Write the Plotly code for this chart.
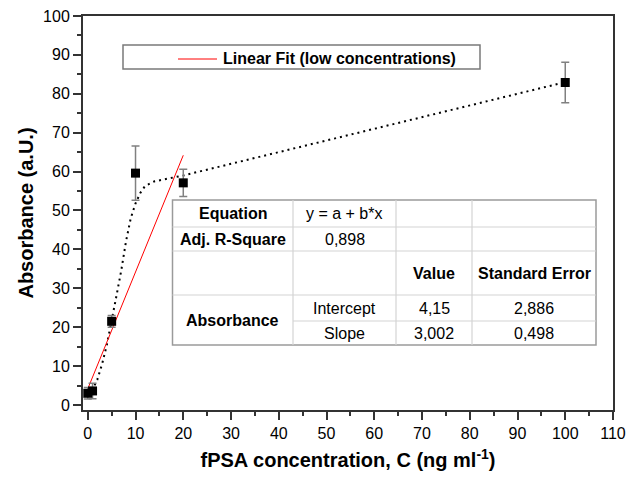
import plotly.graph_objects as go

# ---------------- data ----------------
conc = [0, 1, 5, 10, 20, 100]
absorbance = [3.0, 3.6, 21.5, 59.6, 57.1, 82.9]
abs_err = [1.5, 2.0, 1.5, 7.0, 3.5, 5.2]

# dotted guide curve
curve_x = [0, 1, 2, 3, 4, 5, 6, 7, 8, 9, 10, 11, 12, 14, 17, 20, 30, 40, 50, 60, 70, 80, 90, 100]
curve_y = [2.5, 4.0, 6.5, 10.5, 15.5, 21.5, 28.0, 34.5, 42.0, 48.0, 51.8, 54.5, 56.3, 57.5, 58.3, 59.0,
           62.0, 65.0, 68.0, 71.0, 74.0, 77.0, 80.0, 83.0]

# linear fit (low concentrations)
fit_x = [0, 20]
fit_y = [4.15, 64.19]
fit_name = "Linear Fit (low concentrations)"

x_ticks = [0, 10, 20, 30, 40, 50, 60, 70, 80, 90, 100, 110]
y_ticks = [0, 10, 20, 30, 40, 50, 60, 70, 80, 90, 100]

table_cells = [
    ["Equation", "y = a + b*x", "", ""],
    ["Adj. R-Square", "0,898", "", ""],
    ["", "", "Value", "Standard Error"],
    ["Absorbance", "Intercept", "4,15", "2,886"],
    ["", "Slope", "3,002", "0,498"],
]
table_bold = [
    [True, False, False, False],
    [True, False, False, False],
    [False, False, True, True],
    [True, False, False, False],
    [False, False, False, False],
]

# ---------------- layout geometry (pixels) ----------------
W, H = 628, 478
L, R, T, B = 83, 15, 16, 68
PW, PH = W - L - R, H - T - B


def px(x):
    return (x - L) / PW


def py(y):
    return (H - B - y) / PH


FONT = "Liberation Sans, Arial, sans-serif"

fig = go.Figure()

fig.add_trace(go.Scatter(
    x=curve_x, y=curve_y, mode="lines",
    line=dict(color="black", width=2, dash="2px,4px"),
    showlegend=False, hoverinfo="skip"))

fig.add_trace(go.Scatter(
    x=fit_x, y=fit_y, mode="lines",
    line=dict(color="#ff0000", width=1),
    name=fit_name, showlegend=False))

fig.add_trace(go.Scatter(
    x=conc, y=absorbance, mode="markers",
    marker=dict(symbol="square", size=9, color="black"),
    error_y=dict(type="data", array=abs_err, visible=True,
                 color="#808080", thickness=1.5, width=4),
    showlegend=False))

shapes = []
annotations = []

# legend box
shapes.append(dict(type="rect", xref="paper", yref="paper",
                   x0=px(123), x1=px(480), y0=py(69), y1=py(45),
                   line=dict(color="#7a7a7a", width=1.5), fillcolor="white", layer="above"))
shapes.append(dict(type="line", xref="paper", yref="paper",
                   x0=px(178), x1=px(217), y0=py(59), y1=py(59),
                   line=dict(color="#ff0000", width=1), layer="above"))
annotations.append(dict(xref="paper", yref="paper", x=px(221), y=py(58.5),
                        xanchor="left", yanchor="middle", showarrow=False,
                        text="<b>" + fit_name + "</b>",
                        font=dict(family=FONT, size=16, color="black")))

# table
col_edges = [172.5, 293, 396, 472, 596]
row_edges = [200, 227, 251, 295, 321, 345]
shapes.append(dict(type="rect", xref="paper", yref="paper",
                   x0=px(col_edges[0]), x1=px(col_edges[-1]),
                   y0=py(row_edges[-1]), y1=py(row_edges[0]),
                   line=dict(color="#9a9a9a", width=1.5), fillcolor="white", layer="above"))
for cx in col_edges[1:-1]:
    shapes.append(dict(type="line", xref="paper", yref="paper",
                       x0=px(cx), x1=px(cx), y0=py(row_edges[-1]), y1=py(row_edges[0]),
                       line=dict(color="#d4d4d4", width=1.2), layer="above"))
for i, ry in enumerate(row_edges[1:-1]):
    start = col_edges[1] if i == 3 else col_edges[0]
    shapes.append(dict(type="line", xref="paper", yref="paper",
                       x0=px(start), x1=px(col_edges[-1]), y0=py(ry), y1=py(ry),
                       line=dict(color="#d4d4d4", width=1.2), layer="above"))

for r, row in enumerate(table_cells):
    for c, txt in enumerate(row):
        if not txt:
            continue
        xc = (col_edges[c] + col_edges[c + 1]) / 2
        if r == 3 and c == 0:
            yc = (row_edges[3] + row_edges[5]) / 2
        else:
            yc = (row_edges[r] + row_edges[r + 1]) / 2
        t = "<b>" + txt + "</b>" if table_bold[r][c] else txt
        annotations.append(dict(xref="paper", yref="paper", x=px(xc), y=py(yc),
                                xanchor="center", yanchor="middle", showarrow=False,
                                text=t, font=dict(family=FONT, size=16, color="black")))

axis_common = dict(
    showline=True, mirror=True, linecolor="#333333", linewidth=2,
    showgrid=False, zeroline=False, automargin=False,
    ticks="outside", ticklen=8, tickwidth=1.5, tickcolor="#333333",
    tickfont=dict(family=FONT, size=16, color="black"),
    minor=dict(ticks="outside", ticklen=4, tickwidth=1.5, tickcolor="#333333", dtick=5),
)

fig.update_layout(
    width=W, height=H,
    margin=dict(l=L, r=R, t=T, b=B, pad=0),
    paper_bgcolor="white", plot_bgcolor="white",
    showlegend=False,
    xaxis=dict(range=[-1, 110], tickvals=x_ticks,
               title=dict(text="fPSA concentration, C (ng ml<sup>-1</sup>)",
                          font=dict(family=FONT, size=20, color="black", weight="bold"),
                          standoff=12),
               **axis_common),
    yaxis=dict(range=[-1.3, 100], tickvals=y_ticks,
               title=dict(text="Absorbance (a.U.)",
                          font=dict(family=FONT, size=20, color="black", weight="bold"),
                          standoff=4),
               **axis_common),
    shapes=shapes,
    annotations=annotations,
)

fig.write_html("out.html")
